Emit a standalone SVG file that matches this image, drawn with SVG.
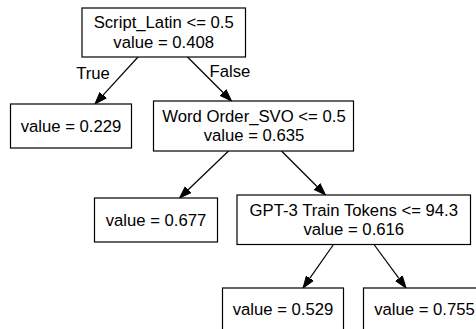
<svg xmlns="http://www.w3.org/2000/svg" width="476" height="329" viewBox="0 0 476 329">
<style>
text{font-family:"Liberation Sans",Arial,sans-serif;font-size:16.7px;fill:#000;text-anchor:middle}
rect{fill:#fff;stroke:#000;stroke-width:1.2}
line{stroke:#000;stroke-width:1.2}
</style>
<defs>
<marker id="ah" markerUnits="userSpaceOnUse" markerWidth="14" markerHeight="10" refX="0" refY="5" viewBox="0 0 14 10" orient="auto">
<path d="M0,0.8 L12,5 L0,9.2 z" fill="#000" stroke="#000" stroke-width="1"/>
</marker>
</defs>
<rect x="0" y="0" width="476" height="329" style="stroke:none;fill:#fff"/>
<g id="edges">
<line x1="138" y1="57" x2="103.1" y2="95.1" marker-end="url(#ah)"/>
<text x="93" y="79.3">True</text>
<line x1="187.5" y1="57" x2="223" y2="92.5" marker-end="url(#ah)"/>
<text x="230" y="77">False</text>
<line x1="228.5" y1="151" x2="188.2" y2="189.7" marker-end="url(#ah)"/>
<line x1="281.5" y1="151" x2="317" y2="186.5" marker-end="url(#ah)"/>
<line x1="333.5" y1="244.5" x2="309.9" y2="278.2" marker-end="url(#ah)"/>
<line x1="374" y1="244.5" x2="398.9" y2="278.3" marker-end="url(#ah)"/>
</g>
<g id="n0">
<rect x="82" y="8" width="163.5" height="49"/>
<text x="163.7" y="28.3">Script_Latin &lt;= 0.5</text>
<text x="163.7" y="48.3">value = 0.408</text>
</g>
<g id="n1">
<rect x="10.5" y="104" width="121" height="44"/>
<text x="71" y="131.7">value = 0.229</text>
</g>
<g id="n2">
<rect x="153.5" y="101" width="200" height="50"/>
<text x="254" y="121.7">Word Order_SVO &lt;= 0.5</text>
<text x="254" y="141.2">value = 0.635</text>
</g>
<g id="n3">
<rect x="94.5" y="198" width="123" height="44"/>
<text x="156" y="225.5">value = 0.677</text>
</g>
<g id="n4">
<rect x="237" y="195" width="233.5" height="49.5"/>
<text x="353.8" y="215.5">GPT-3 Train Tokens &lt;= 94.3</text>
<text x="353.8" y="235">value = 0.616</text>
</g>
<g id="n5">
<rect x="222.5" y="288" width="121" height="44"/>
<text x="283" y="314.5">value = 0.529</text>
</g>
<g id="n6">
<rect x="363.5" y="288" width="122" height="44"/>
<text x="424.5" y="314.5">value = 0.755</text>
</g>
</svg>
